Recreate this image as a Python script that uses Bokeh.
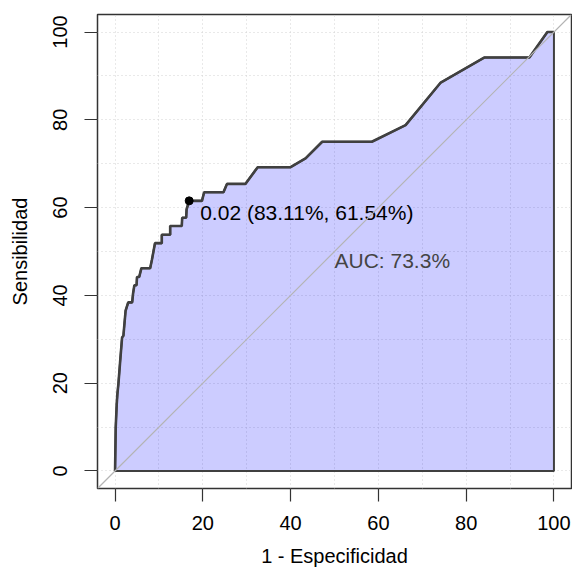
from bokeh.plotting import figure
from bokeh.models import Range1d, FixedTicker, Slope
from bokeh.core.properties import value
from bokeh.embed import file_html
from bokeh.resources import INLINE

# ROC curve (percent): 1 - specificity, sensitivity
fpr = [0, 0.15, 0.38, 0.53, 0.76, 1.14, 1.6, 1.9, 2.4, 3.0, 3.9, 4.1, 4.4, 4.9, 5.0, 5.5,
       6.0, 8.0, 8.4, 8.75, 9.1, 10.65, 10.65, 12.56, 12.56, 15.2, 15.3, 16.2, 16.3, 16.88,
       19.8, 20.3, 24.7, 25.5, 29.7, 32.5, 40.0, 43.4, 47.2, 58.5, 66.2, 74.2, 84.1, 94.4,
       98.5, 100]
sens = [0, 9.9, 15.2, 17.5, 19.8, 24.7, 30.4, 30.8, 36.5, 38.4, 38.4, 40.4, 42.3, 42.3, 44.2, 44.2,
        46.2, 46.2, 48.1, 50.0, 51.9, 51.9, 53.8, 53.8, 55.8, 55.8, 57.7, 57.7, 59.6, 61.54,
        61.54, 63.5, 63.5, 65.4, 65.4, 69.2, 69.2, 71.2, 75.0, 75.0, 78.8, 88.5, 94.2, 94.2,
        100, 100]

thr_x = [16.89]
thr_y = [61.54]
thr_label = ["0.02 (83.11%, 61.54%)"]
auc_x = [50]
auc_y = [50]
auc_label = ["AUC: 73.3%"]
ticks = [0, 20, 40, 60, 80, 100]
grid_ticks = [0, 10, 20, 30, 40, 50, 60, 70, 80, 90, 100]

FONT = "Liberation Sans"

p = figure(width=572, height=576, output_backend="svg", toolbar_location=None,
           x_range=Range1d(-4, 104), y_range=Range1d(-4, 104),
           min_border_left=97, min_border_right=1, min_border_top=14, min_border_bottom=88)
p.outline_line_color = "#333333"
p.outline_line_width = 1.5
p.background_fill_color = "white"
p.border_fill_color = "white"

for g, t in ((p.xgrid, grid_ticks), (p.ygrid, grid_ticks)):
    g.ticker = FixedTicker(ticks=t)
    g.grid_line_color = "#d3d3d3"
    g.grid_line_dash = "1 3"
    g.grid_line_width = 1

for ax in (p.xaxis, p.yaxis):
    ax.ticker = FixedTicker(ticks=ticks)
    ax.axis_line_color = None
    ax.major_tick_line_color = "#333333"
    ax.major_tick_line_width = 1.2
    ax.major_tick_in = 0
    ax.major_tick_out = 13
    ax.minor_tick_line_color = None
    ax.major_label_text_font = FONT
    ax.major_label_text_font_size = "20px"
    ax.major_label_text_color = "black"
    ax.axis_label_text_font = FONT
    ax.axis_label_text_font_size = "20px"
    ax.axis_label_text_font_style = "normal"
    ax.axis_label_text_color = "black"

p.xaxis.axis_label = "1 - Especificidad"
p.yaxis.axis_label = "Sensibilidad"
p.xaxis.major_label_standoff = 14
p.xaxis.axis_label_standoff = 12
p.yaxis.major_label_orientation = "vertical"
p.yaxis.major_label_standoff = 17
p.yaxis.axis_label_standoff = 20

# diagonal reference line
p.add_layout(Slope(gradient=1, y_intercept=0, line_color="#b4b4b4", line_width=1.2))

# AUC polygon
patch_x = fpr + [fpr[-1]]
patch_y = sens + [0]
p.patch(patch_x, patch_y, fill_color="blue", fill_alpha=0.2,
        line_color="#404040", line_width=2)

# ROC curve
p.line(fpr, sens, line_color="#404040", line_width=2.6)

# threshold point and label
p.scatter(thr_x, thr_y, size=8, color="black")
p.text(thr_x, thr_y, text=thr_label, text_font=value(FONT), text_font_size="21px",
       text_color="black", text_align="left", text_baseline="alphabetic",
       x_offset=11, y_offset=12)

p.text(auc_x, auc_y, text=auc_label, text_font=value(FONT), text_font_size="21px",
       text_color="#444444", text_align="left", text_baseline="alphabetic",
       x_offset=0, y_offset=9)

open("out.html", "w").write(file_html(p, INLINE))
